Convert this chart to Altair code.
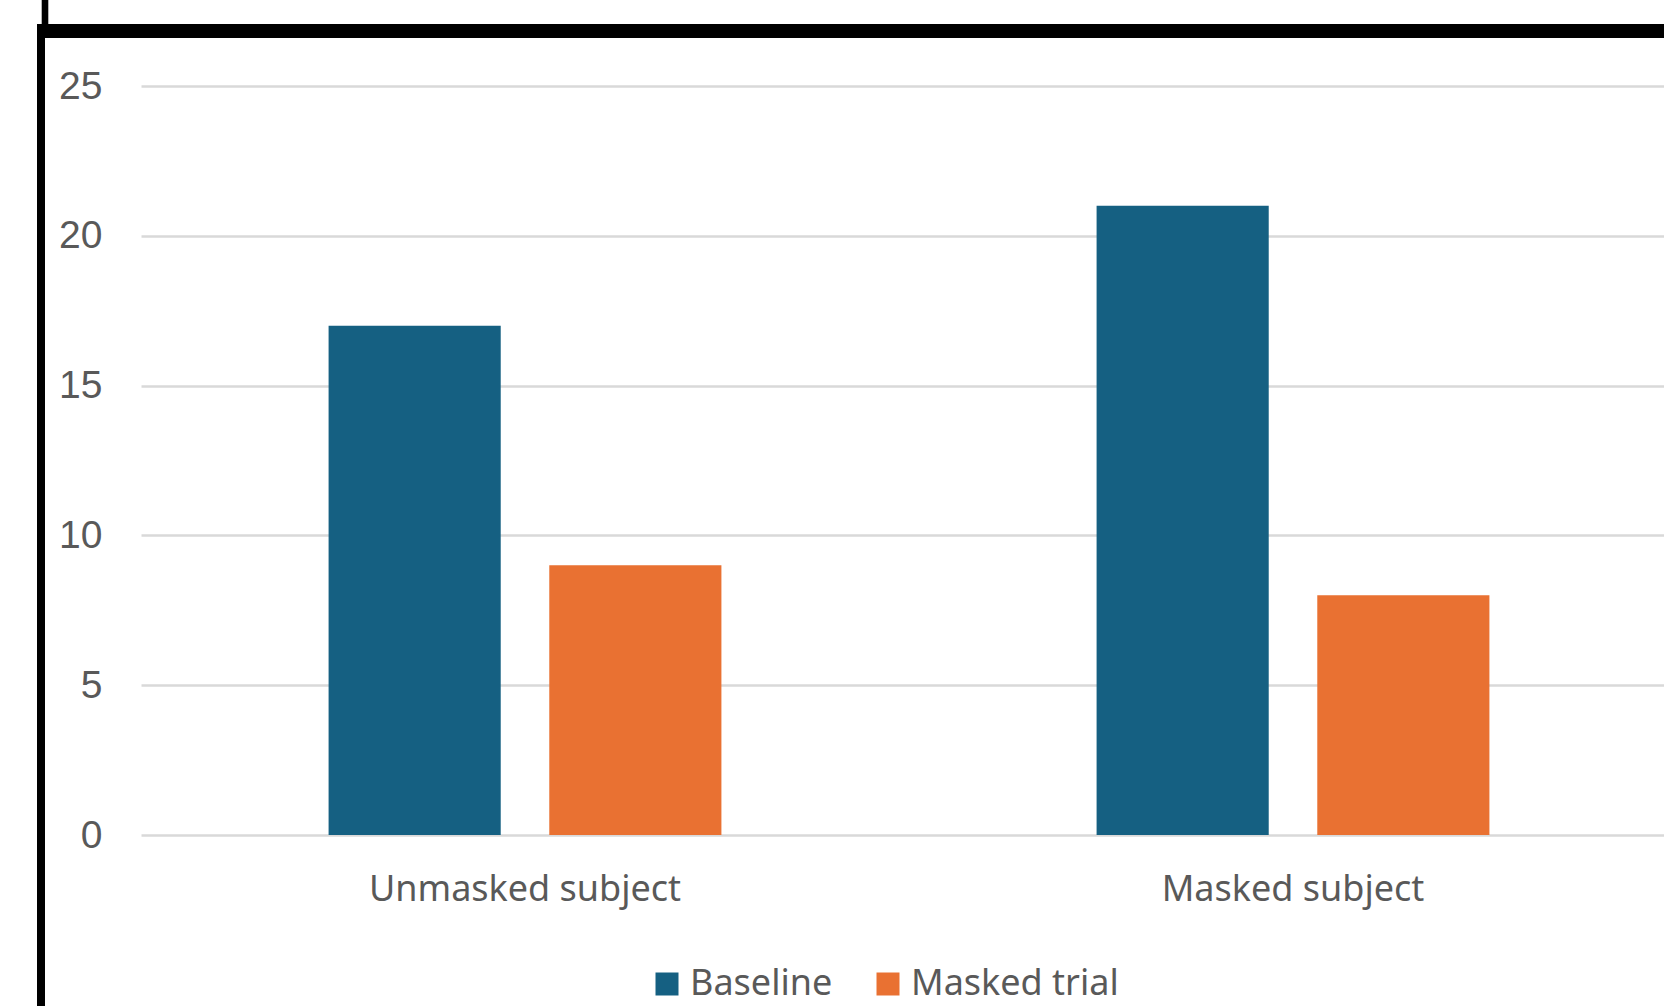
import altair as alt
import pandas as pd

categories = ["Unmasked subject", "Masked subject"]
series = ["Baseline", "Masked trial"]
baseline_values = [17, 21]
masked_trial_values = [9, 8]
y_ticks = [0, 5, 10, 15, 20, 25]
colors = ["#156082", "#E97132"]

rows = []
for i, c in enumerate(categories):
    rows.append({"category": c, "series": series[0], "value": baseline_values[i]})
    rows.append({"category": c, "series": series[1], "value": masked_trial_values[i]})
df = pd.DataFrame(rows)

W, H = 1523, 749
text_color = "#595959"

bars = alt.Chart(df).mark_bar().encode(
    x=alt.X(
        "category:N",
        sort=categories,
        scale=alt.Scale(paddingInner=0, paddingOuter=0, range=[0, 1536]),
        axis=alt.Axis(
            title=None, labelAngle=0, domain=False, ticks=False, tickSize=0,
            labelFont="Noto Sans", labelFontSize=36, labelColor=text_color,
            labelPadding=37, grid=False, labelLimit=0,
        ),
    ),
    xOffset=alt.XOffset(
        "series:N", sort=series,
        scale=alt.Scale(paddingInner=0.22, paddingOuter=0.85),
    ),
    y=alt.Y(
        "value:Q",
        scale=alt.Scale(domain=[0, 25], nice=False, zero=True),
        axis=alt.Axis(
            values=y_ticks, title=None, domain=False, ticks=False, tickSize=0,
            grid=True, gridColor="#d9d9d9", gridWidth=2.5,
            labelFont="Liberation Sans", labelFontSize=39, labelColor=text_color,
            labelPadding=39,
        ),
    ),
    color=alt.Color(
        "series:N",
        scale=alt.Scale(domain=series, range=colors),
        legend=alt.Legend(
            title=None, orient="none", legendX=508, legendY=880,
            direction="horizontal", symbolType="square", symbolSize=529,
            symbolStrokeWidth=0, labelFont="Noto Sans", labelFontSize=36,
            labelColor=text_color, labelOffset=5, columnPadding=37, padding=0,
            labelLimit=0,
        ),
    ),
)

one = pd.DataFrame({"k": [0]})
frame_v_low = alt.Chart(one).mark_rule(color="black", strokeWidth=8).encode(
    x=alt.value(-100), y=alt.value(-55), y2=alt.value(925)
)
frame_h = alt.Chart(one).mark_rule(color="black", strokeWidth=14).encode(
    x=alt.value(-104), x2=alt.value(1530), y=alt.value(-55)
)
frame_v_up = alt.Chart(one).mark_rule(color="black", strokeWidth=6.6).encode(
    x=alt.value(-96), y=alt.value(-90), y2=alt.value(-60)
)

chart = alt.layer(bars, frame_v_low, frame_h, frame_v_up).properties(
    width=W, height=H,
    autosize=alt.AutoSizeParams(type="none"),
    padding={"left": 141, "top": 86, "right": 0, "bottom": 171},
    background="white",
).configure_view(stroke=None)

chart.save("out.html", embed_options={"renderer": "svg", "actions": False})
